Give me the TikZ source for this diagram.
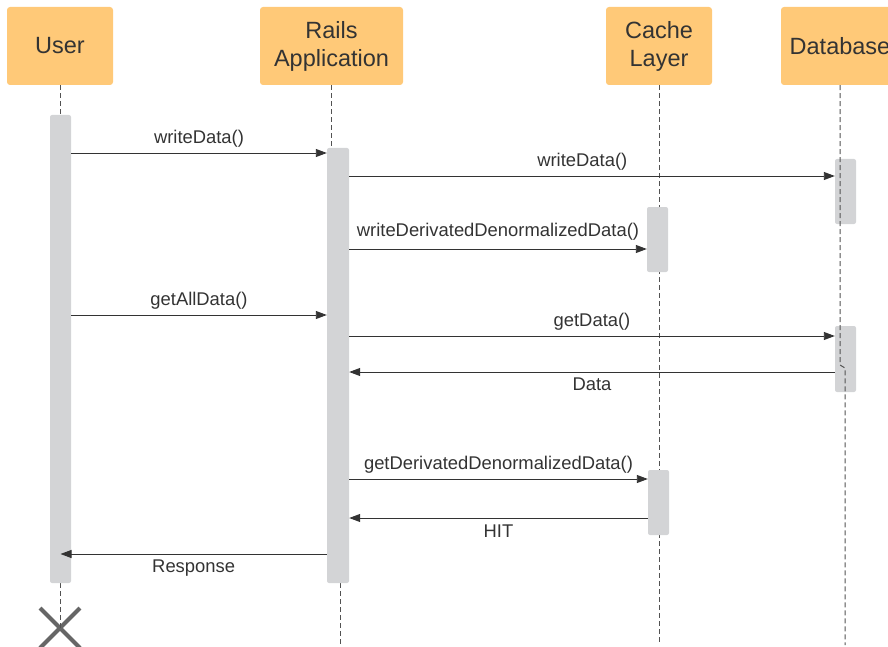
\documentclass[tikz,border=0pt]{standalone}
\usepackage{fontspec}
\setmainfont{Liberation Sans}
\usetikzlibrary{arrows.meta,positioning,shapes.misc}
\definecolor{headfill}{HTML}{FFC978}
\definecolor{barfill}{HTML}{D3D4D6}
\definecolor{ink}{HTML}{333333}

\begin{document}
\begin{tikzpicture}[x=1pt, y=-1pt,
    head/.style={fill=headfill, rounded corners=3pt, minimum width=106pt, minimum height=78pt, align=center, font=\fontsize{23.5}{28}\selectfont, text=ink},
    act/.style={fill=barfill, rounded corners=2pt, minimum width=21pt, inner sep=0pt},
    life/.style={dash pattern=on 5pt off 3pt, draw=ink!85, line width=1pt},
    msg/.style={-{Triangle[length=11pt, width=8pt]}, draw=ink, line width=0.9pt},
    lbl/.style={font=\fontsize{18.4}{22}\selectfont, text=ink, inner sep=0pt},
    endmark/.style={cross out, draw=ink!75, line width=4pt, minimum size=36pt, inner sep=0pt}
]
\useasboundingbox (0,0) rectangle (888,647);

% Participants
\node[head] (user) at (60,46) {User};
\node[head, minimum width=143pt] (rails) at (331.5,46) {Rails\\Application};
\node[head] (cache) at (659,46) {Cache\\Layer};
\node[head, minimum width=118pt] (db) at (840,46) {Database};

% End of the user
\node[endmark] (uend) at (60,628) {};

% Lifelines (behind the bars)
\draw[life] (user.south) -- (user.south |- 0,115);
\draw[life] (60,583) -- (uend.center);
\draw[life] (rails.south) -- (rails.south |- 0,148);
\draw[life] (340,583) -- (340,645);
\draw[life] (cache.south) -- (cache.south |- 0,645);

% Activation bars
\node[act, minimum height=468pt] (ubar) at (60.5,349) {};
\node[act, minimum height=435pt, minimum width=22pt] (rbar) at (338,365.5) {};
\node[act, minimum height=65pt] (cbar1) at (657.5,239.5) {};
\node[act, minimum height=65pt] (cbar2) at (658.5,502.5) {};
\node[act, minimum height=65pt] (dbar1) at (845.5,191.5) {};
\node[act, minimum height=66pt] (dbar2) at (845.5,359) {};

% Database lifeline (over its bars)
\draw[life] (db.south) -- (db.south |- 0,365) -- ++(5,3) -- ++(0,277);

% Messages
\draw[msg] (ubar.east |- 0,153) -- node[lbl, midway, yshift=14pt] {writeData()} (rbar.west |- 0,153);
\draw[msg] (rbar.east |- 0,176) -- node[lbl, pos=0.48, yshift=14pt] {writeData()} (dbar1.west |- 0,176);
\draw[msg] (rbar.east |- 0,249) -- node[lbl, midway, yshift=17pt] {writeDerivatedDenormalizedData()} (cbar1.west |- 0,249);
\draw[msg] (ubar.east |- 0,315) -- node[lbl, midway, yshift=14pt] {getAllData()} (rbar.west |- 0,315);
\draw[msg] (rbar.east |- 0,336) -- node[lbl, midway, yshift=14pt] {getData()} (dbar2.west |- 0,336);
\draw[msg] (dbar2.west |- 0,372) -- node[lbl, midway, yshift=-12pt] {Data} (rbar.east |- 0,372);
\draw[msg] (rbar.east |- 0,479) -- node[lbl, midway, yshift=14pt] {getDerivatedDenormalizedData()} (cbar2.west |- 0,479);
\draw[msg] (cbar2.west |- 0,518) -- node[lbl, midway, yshift=-13pt] {HIT} (rbar.east |- 0,518);
\draw[msg] (rbar.west |- 0,554) -- node[lbl, midway, yshift=-14pt] {Response} (ubar.center |- 0,554);

\end{tikzpicture}
\end{document}
